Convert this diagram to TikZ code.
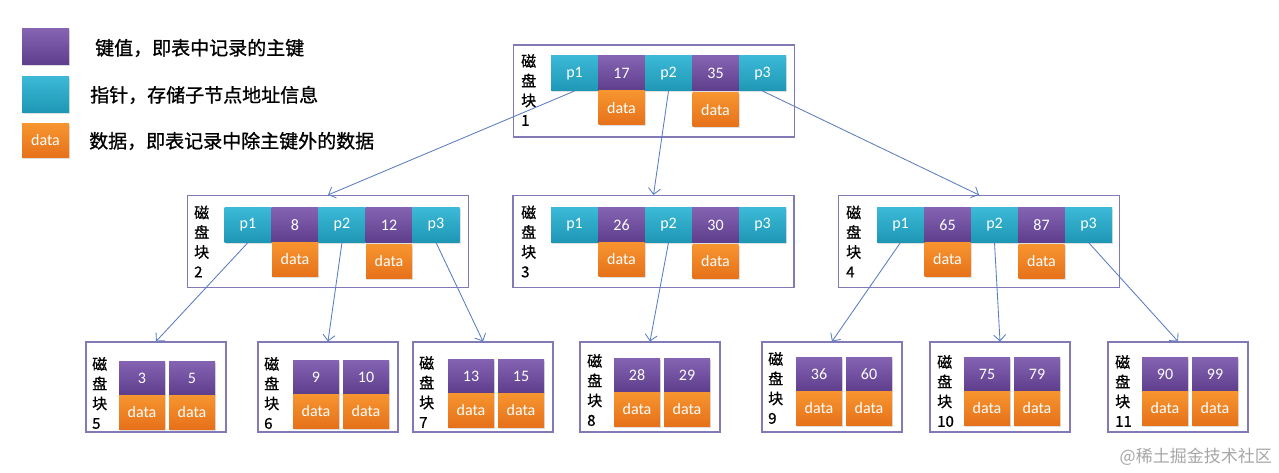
\documentclass[tikz,border=0pt]{standalone}
\usepackage{fontspec}
\setmainfont{Carlito}
\newfontfamily\cjk[FakeBold=1]{Noto Sans CJK SC}
\newfontfamily\cjkwm{Noto Sans CJK SC}
\usepackage{xcolor}
\usetikzlibrary{positioning,arrows.meta,shadows}
\definecolor{keytop}{HTML}{8463B3}
\definecolor{keybot}{HTML}{5E3E8C}
\definecolor{ptrtop}{HTML}{3BB9D6}
\definecolor{ptrbot}{HTML}{1E97B5}
\definecolor{dattop}{HTML}{F7952F}
\definecolor{datbot}{HTML}{E6711A}
\definecolor{framec}{HTML}{8279B7}
\definecolor{arrowc}{HTML}{5A7CC2}

\begin{document}
\begin{tikzpicture}[x=1pt, y=-1pt, >={Straight Barb[length=6pt,width=12pt]},
  cell/.style={inner sep=0, outer sep=0, text=white,
               font=\fontsize{16}{16}\selectfont,
               drop shadow={shadow xshift=1pt, shadow yshift=-1.5pt, opacity=0.25}},
  key/.style={cell, top color=keytop, bottom color=keybot,
              minimum width=47, minimum height=35},
  ptr/.style={cell, top color=ptrtop, bottom color=ptrbot,
              minimum width=47, minimum height=35},
  dat/.style={cell, top color=dattop, bottom color=datbot,
              minimum width=46, minimum height=34},
  lkey/.style={key, minimum width=46, minimum height=34},
  frame/.style={draw=framec, line width=1.1pt, inner sep=0,
                minimum width=281, minimum height=92},
  lframe/.style={frame, minimum width=140, minimum height=90},
  lbl/.style={align=left, inner sep=0, anchor=west,
              font=\cjk\fontsize{15}{19.7}\selectfont},
  legend/.style={inner sep=0, anchor=west, font=\cjk\fontsize{19}{19}\selectfont},
  arr/.style={->, draw=arrowc, line width=0.85pt}]
\useasboundingbox (0,0) rectangle (1279,473);

% Legende
\node[key, minimum width=47, minimum height=36] (lgk) at (45.5,47)  {};
\node[ptr, minimum width=47, minimum height=36] (lgp) at (45.5,94.5) {};
\node[dat, minimum width=47, minimum height=34] (lgd) at (45.5,140.5) {data};
\node[legend] (tk) at (95,48)  {键值，即表中记录的主键};
\node[legend] (tp) at (90,95)  {指针，存储子节点地址信息};
\node[legend] (td) at (89,141) {数据，即表记录中除主键外的数据};

% Wurzel: Block 1
\node[frame] (b1) at (654,91) {};
\node[lbl] (l1) at (521,90) {磁\\盘\\块\\1};
\node[ptr] (b1p1) at (574.5,73.5) {p1};
\node[key, right=0pt of b1p1] (b1k1) {17};
\node[ptr, right=0pt of b1k1] (b1p2) {p2};
\node[key, right=0pt of b1p2] (b1k2) {35};
\node[ptr, right=0pt of b1k2] (b1p3) {p3};
\node[dat, below=0pt of b1k1] (b1d1) {data};
\node[dat, below=2pt of b1k2] (b1d2) {data};

% zweite Ebene: Block 2, 3, 4
\node[frame] (b2) at (328,241.5) {};
\node[lbl] (l2) at (194,241.5) {磁\\盘\\块\\2};
\node[ptr] (b2p1) at (248,225) {p1};
\node[key, right=0pt of b2p1] (b2k1) {8};
\node[ptr, right=0pt of b2k1] (b2p2) {p2};
\node[key, right=0pt of b2p2] (b2k2) {12};
\node[ptr, right=0pt of b2k2] (b2p3) {p3};
\node[dat, below=0pt of b2k1] (b2d1) {data};
\node[dat, below=2pt of b2k2] (b2d2) {data};

\node[frame] (b3) at (653.5,241.5) {};
\node[lbl] (l3) at (521,241.5) {磁\\盘\\块\\3};
\node[ptr] (b3p1) at (574.5,225) {p1};
\node[key, right=0pt of b3p1] (b3k1) {26};
\node[ptr, right=0pt of b3k1] (b3p2) {p2};
\node[key, right=0pt of b3p2] (b3k2) {30};
\node[ptr, right=0pt of b3k2] (b3p3) {p3};
\node[dat, below=0pt of b3k1] (b3d1) {data};
\node[dat, below=2pt of b3k2] (b3d2) {data};

\node[frame] (b4) at (979,241.5) {};
\node[lbl] (l4) at (846,241.5) {磁\\盘\\块\\4};
\node[ptr] (b4p1) at (900.5,225) {p1};
\node[key, right=0pt of b4p1] (b4k1) {65};
\node[ptr, right=0pt of b4k1] (b4p2) {p2};
\node[key, right=0pt of b4p2] (b4k2) {87};
\node[ptr, right=0pt of b4k2] (b4p3) {p3};
\node[dat, below=0pt of b4k1] (b4d1) {data};
\node[dat, below=2pt of b4k2] (b4d2) {data};

% Blattebene: Block 5 bis 11
\node[lframe] (b5) at (156,387) {};
\node[lbl] (l5) at (92,393) {磁\\盘\\块\\5};
\node[lkey] (b5k1) at (142,378) {3};
\node[lkey, right=4pt of b5k1] (b5k2) {5};
\node[dat, below=0pt of b5k1] (b5d1) {data};
\node[dat, below=0pt of b5k2] (b5d2) {data};

\node[lframe] (b6) at (328,387) {};
\node[lbl] (l6) at (264,393) {磁\\盘\\块\\6};
\node[lkey] (b6k1) at (316,377) {9};
\node[lkey, right=4pt of b6k1] (b6k2) {10};
\node[dat, below=0pt of b6k1] (b6d1) {data};
\node[dat, below=0pt of b6k2] (b6d2) {data};

\node[lframe] (b7) at (483,387) {};
\node[lbl] (l7) at (419,392) {磁\\盘\\块\\7};
\node[lkey] (b7k1) at (471,376) {13};
\node[lkey, right=4pt of b7k1] (b7k2) {15};
\node[dat, below=0pt of b7k1] (b7d1) {data};
\node[dat, below=0pt of b7k2] (b7d2) {data};

\node[lframe] (b8) at (650,387) {};
\node[lbl] (l8) at (587,390) {磁\\盘\\块\\8};
\node[lkey] (b8k1) at (637,375) {28};
\node[lkey, right=4pt of b8k1] (b8k2) {29};
\node[dat, below=0pt of b8k1] (b8d1) {data};
\node[dat, below=0pt of b8k2] (b8d2) {data};

\node[lframe] (b9) at (832,387) {};
\node[lbl] (l9) at (768,388) {磁\\盘\\块\\9};
\node[lkey] (b9k1) at (819,374.5) {36};
\node[lkey, right=4pt of b9k1] (b9k2) {60};
\node[dat, below=0pt of b9k1] (b9d1) {data};
\node[dat, below=0pt of b9k2] (b9d2) {data};

\node[lframe] (b10) at (1000,387) {};
\node[lbl] (l10) at (937,391) {磁\\盘\\块\\10};
\node[lkey] (b10k1) at (987,374) {75};
\node[lkey, right=4pt of b10k1] (b10k2) {79};
\node[dat, below=0pt of b10k1] (b10d1) {data};
\node[dat, below=0pt of b10k2] (b10d2) {data};

\node[lframe] (b11) at (1178,387) {};
\node[lbl] (l11) at (1115,391) {磁\\盘\\块\\11};
\node[lkey] (b11k1) at (1165,374.5) {90};
\node[lkey, right=4pt of b11k1] (b11k2) {99};
\node[dat, below=0pt of b11k1] (b11d1) {data};
\node[dat, below=0pt of b11k2] (b11d2) {data};

\draw[arr] (b1p1.south) -- (b2.north);
\draw[arr] (b1p2.south) -- (b3.north);
\draw[arr] (b1p3.south) -- (b4.north);
\draw[arr] (b2p1.south) -- (b5.north);
\draw[arr] (b2p2.south) -- (b6.north);
\draw[arr] (b2p3.south) -- (b7.north);
\draw[arr] (b3p2.south) -- (b8.north);
\draw[arr] (b4p1.south) -- (b9.north);
\draw[arr] (b4p2.south) -- (b10.north);
\draw[arr] (b4p3.south) -- (b11.north);

\node[inner sep=0, anchor=east, text=black!35, font=\cjkwm\fontsize{17}{17}\selectfont]
  (wm) at (1272,457) {@稀土掘金技术社区};
\end{tikzpicture}
\end{document}
